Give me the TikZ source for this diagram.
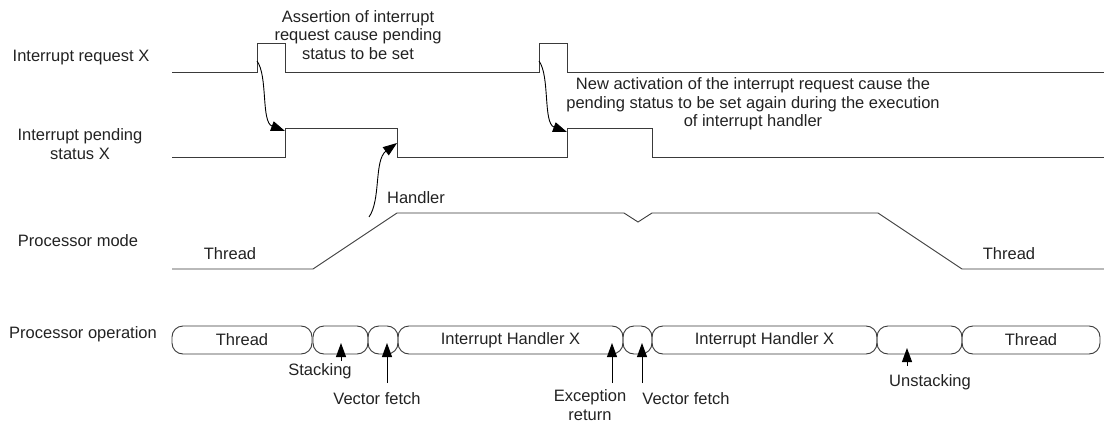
\documentclass[tikz,border=0pt]{standalone}
\usepackage{fontspec}
\setmainfont{Liberation Sans}
\usetikzlibrary{arrows.meta}
\definecolor{ink}{HTML}{222222}
\definecolor{wire}{HTML}{3A3A3A}
\tikzset{
  sig/.style={draw=wire, line width=0.9pt},
  lbl/.style={text=ink, inner sep=0pt, font=\fontsize{16.5}{18.5}\selectfont},
  mlbl/.style={lbl, align=center},
  opbox/.style={draw=wire, line width=0.9pt, rounded corners=11pt, minimum height=28pt, inner sep=0pt, text=ink, font=\fontsize{16.5}{18.5}\selectfont},
  tip/.style={draw=black, line width=0.9pt, -{Triangle[length=14pt,width=10pt]}},
}
\begin{document}
\begin{tikzpicture}[x=1pt,y=-1pt]
\useasboundingbox (0,0) rectangle (1104,423);

% left labels
\node[lbl] (lreq) at (81,58) {Interrupt request X};
\node[mlbl] (lpend) at (80,144) {Interrupt pending\\status X};
\node[lbl] (lmode) at (78,241) {Processor mode};
\node[lbl] (lop) at (83,334) {Processor operation};

% Interrupt request X
\draw[sig] (172,72) -- (257,72) -- (257,43) -- (285,43) -- (285,72) -- (539,72) -- (539,43) -- (567,43) -- (567,72) -- (1104,72);
% Interrupt pending status X
\draw[sig] (172,157) -- (285,157) -- (285,128) -- (397,128) -- (397,157) -- (567,157) -- (567,128) -- (652,128) -- (652,157) -- (1104,157);
% Processor mode
\draw[sig] (172,269) -- (313,269) -- (397,213) -- (624,213) -- (638,222) -- (652,213) -- (878,213) -- (962,269) -- (1104,269);

% annotations
\node[mlbl] (ann1) at (358,35) {Assertion of interrupt\\request cause pending\\status to be set};
\node[mlbl] (ann2) at (753,104) {New activation of the interrupt request cause the\\pending status to be set again during the execution\\of interrupt handler};
\node[lbl] (mthr1) at (230,254) {Thread};
\node[lbl] (mhand) at (416,198) {Handler};
\node[lbl] (mthr2) at (1009,254) {Thread};

% curved arrows
\coordinate (r1) at (257,61);
\coordinate (p1) at (285,131);
\coordinate (r2) at (539,61);
\coordinate (p2) at (567,132);
\coordinate (h0) at (369,217);
\coordinate (h1) at (397,143);
\draw[tip] (r1) .. controls (268,76) and (261,122) .. (p1);
\draw[tip] (r2) .. controls (550,76) and (543,123) .. (p2);
\draw[tip] (h0) .. controls (381,200) and (374,160) .. (h1);

% Processor operation boxes
\node[opbox, minimum width=140pt] (b1) at (242,340) {Thread};
\node[opbox, minimum width=55pt] (b2) at (340.5,340) {};
\node[opbox, minimum width=30pt] (b3) at (383,340) {};
\node[opbox, minimum width=225pt] (b4) at (510.5,340) {Interrupt Handler X};
\node[opbox, minimum width=29pt] (b5) at (637.5,340) {};
\node[opbox, minimum width=225pt] (b6) at (764.5,340) {Interrupt Handler X};
\node[opbox, minimum width=85pt] (b7) at (919.5,340) {};
\node[opbox, minimum width=138pt] (b8) at (1031,340) {Thread};

% operation labels
\node[lbl] (tstack) at (320,371) {Stacking};
\node[lbl] (tvf1) at (377,399) {Vector fetch};
\node[mlbl] (texr) at (590,405) {Exception\\return};
\node[lbl] (tvf2) at (686,399) {Vector fetch};
\node[lbl] (tunst) at (930,382) {Unstacking};

\coordinate (s0) at (341,361);
\coordinate (s1) at (341,343);
\coordinate (v0) at (387,383);
\coordinate (v1) at (387,343);
\coordinate (e0) at (612,383);
\coordinate (e1) at (612,343);
\coordinate (w0) at (642,383);
\coordinate (w1) at (642,343);
\coordinate (u0) at (907,366);
\coordinate (u1) at (907,348);
\draw[tip] (s0) -- (s1);
\draw[tip] (v0) -- (v1);
\draw[tip] (e0) -- (e1);
\draw[tip] (w0) -- (w1);
\draw[tip] (u0) -- (u1);
\end{tikzpicture}
\end{document}
